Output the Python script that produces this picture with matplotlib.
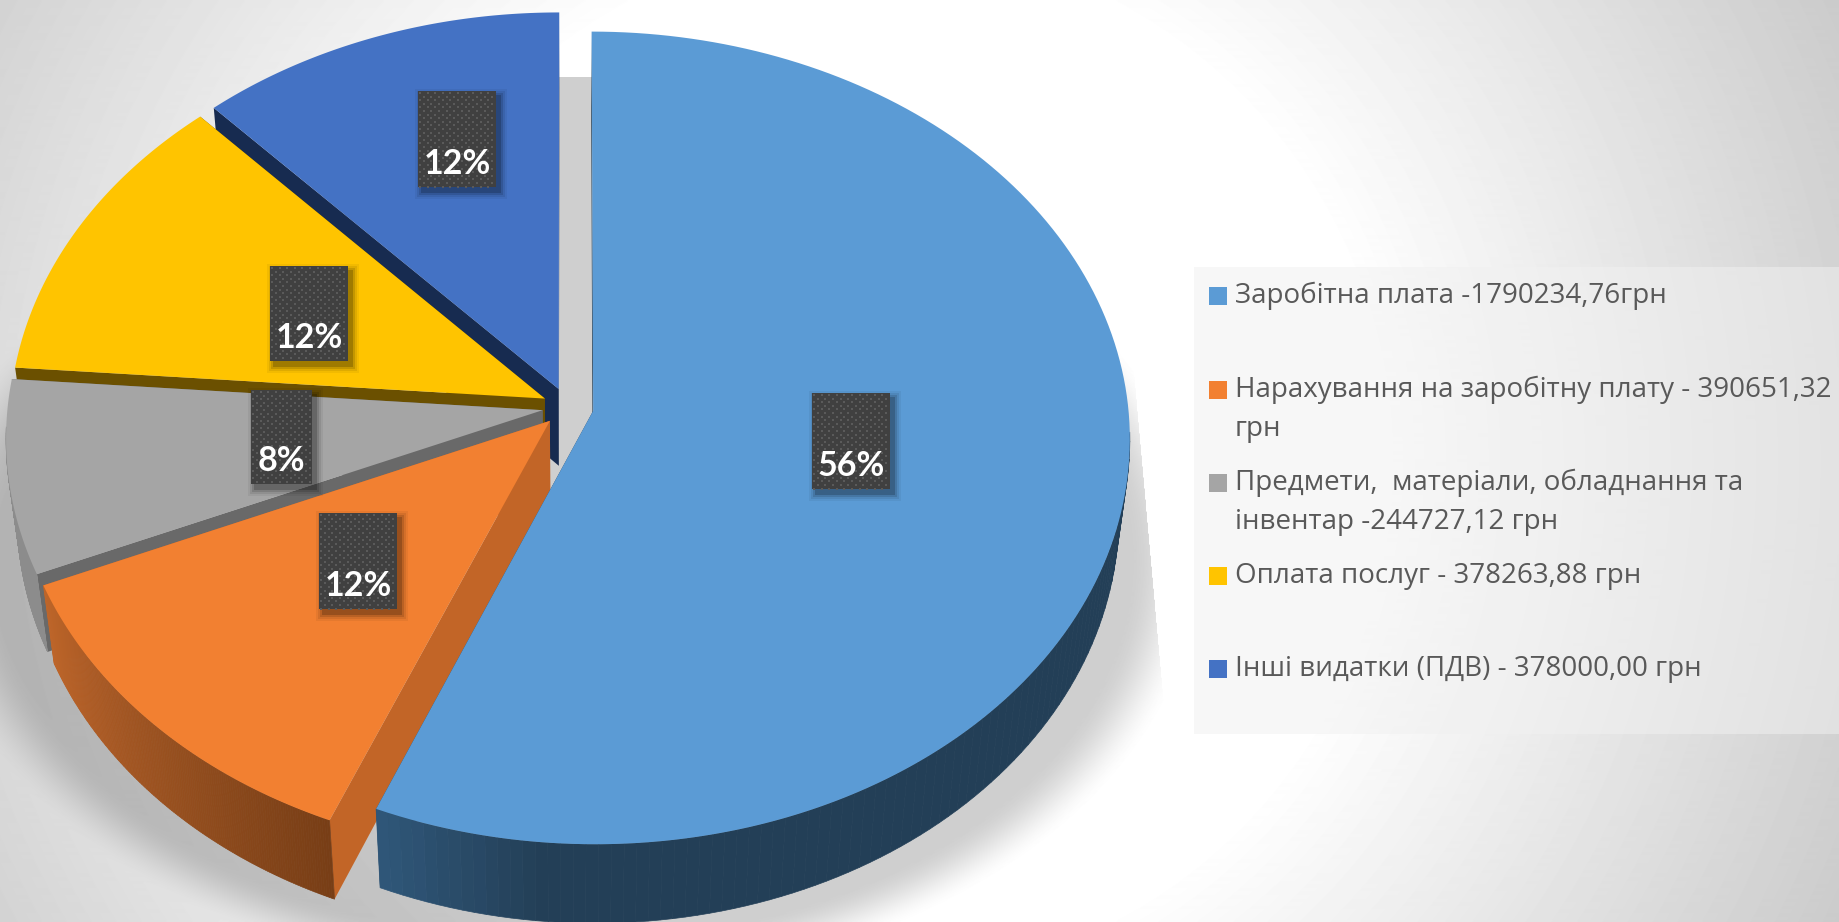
import numpy as np
import matplotlib
matplotlib.use('Agg')
import matplotlib.pyplot as plt
from matplotlib.patches import Rectangle
from matplotlib.colors import LinearSegmentedColormap

W, H = 1839, 922

# Data from the legend
labels = ['Заробітна плата -1790234,76грн',
          'Нарахування на заробітну плату - 390651,32\nгрн',
          'Предмети,  матеріали, обладнання та\nінвентар -244727,12 грн',
          'Оплата послуг - 378263,88 грн',
          'Інші видатки (ПДВ) - 378000,00 грн']
values = [1790234.76, 390651.32, 244727.12, 378263.88, 378000.00]

top_colors = ['#5b9bd5', '#f28031', '#a5a5a5', '#ffc400', '#4472c4']
cut_colors = ['#233f57', '#c26527', '#696969', '#6b5000', '#172b50']
# shading of the outer wall, from the start of the slice to its end
wall_colors = [[(0, '#233f57'), (0.92, '#233f57'), (1, '#2f5678')],
               [(0, '#783e16'), (1, '#bd652a')],
               [(0, '#8c8c8c'), (1, '#8c8c8c')],
               [(0, '#6b5000'), (1, '#6b5000')],
               [(0, '#172b50'), (1, '#172b50')]]

# Geometry of the 3d pie, in pixels
cx, cy = 568, 407
rx, ry = 535, 404
explode = 0.048
depth = 80
k_y = 0.0667
k_z = 0.02


def project(x, y, z=0.0):
    s = 1.0 / (1.0 + k_y * y + k_z * z)
    return cx + rx * x * s, cy - ry * y * s + depth * z * s ** 2


def background():
    yy, xx = np.mgrid[0:H, 0:W]
    r = np.hypot(xx - 872, yy - 461)
    grey = 255 - 0.093 * np.clip(r - 510, 0, None)
    # soft shadow below the pie
    r2 = np.sqrt(((xx - 565) / 640.0) ** 2 + ((yy - 560) / 430.0) ** 2)
    mask = np.clip((1.0 - r2) / 0.12, 0, 1)
    mask = mask * mask * (3 - 2 * mask)
    # it also shows in the gap between the two blue slices
    mask[(xx > 550) & (xx < 610)] = 1
    mask[xx > 1145 + (yy - 500) * 0.09] = 0
    mask[yy < 78] = 0
    return grey * (1 - 0.19 * mask)


def draw_slice(a0, a1, i, zo):
    mid = np.radians((a0 + a1) / 2)
    ox, oy = explode * np.sin(mid), explode * np.cos(mid)
    t = np.radians(np.linspace(a0, a1, 160))
    x = ox + np.sin(t)
    y = oy + np.cos(t)
    # cut faces
    for e in (0, -1):
        pts = [project(ox, oy, 0), project(x[e], y[e], 0), project(x[e], y[e], 1), project(ox, oy, 1)]
        ax.fill(*zip(*pts), color=cut_colors[i], lw=0, zorder=zo)
    # outer wall, shaded piece by piece; the back part can not be seen
    wall = LinearSegmentedColormap.from_list('wall', wall_colors[i])
    for j in range(len(t) - 1):
        if y[j] > -0.05:
            continue
        pts = [project(x[j], y[j], 0), project(x[j + 1], y[j + 1], 0),
               project(x[j + 1], y[j + 1], 1), project(x[j], y[j], 1)]
        ax.fill(*zip(*pts), color=wall(j / (len(t) - 2)), lw=0.5, zorder=zo + 0.1)
    # top face
    pts = [project(ox, oy)] + [project(a, b) for a, b in zip(x, y)]
    ax.fill(*zip(*pts), color=top_colors[i], lw=0, zorder=zo + 0.2)


def draw_label(x0, y0, w, h, text):
    for g, a in zip((7, 5, 3, 1), (0.05, 0.08, 0.12, 0.18)):
        ax.add_patch(Rectangle((x0 + 4 - g, y0 + 5 - g), w + 2 * g, h + 2 * g, fc='black',
                               ec='none', alpha=a, zorder=20))
    ax.add_patch(Rectangle((x0, y0), w, h, fc='#404040', ec='none', zorder=21))
    dots_x, dots_y = [], []
    for row, yy in enumerate(np.arange(y0 + 2, y0 + h, 3.6)):
        start = x0 + 2 + (row % 2) * 3.8
        for xx in np.arange(start, x0 + w, 7.6):
            dots_x.append(xx)
            dots_y.append(yy)
    ax.scatter(dots_x, dots_y, s=2.5, marker='s', c='#5a5a5a', linewidths=0, zorder=22)
    ax.text(x0 + w / 2, y0 + h - 23, text, color='white', fontsize=24.5, fontweight='bold',
            family='Lato', ha='center', va='center', zorder=23)


fig = plt.figure(figsize=(W / 100, H / 100), dpi=100)
ax = fig.add_axes([0, 0, 1, 1])

ax.imshow(background(), cmap='gray', vmin=0, vmax=255, extent=(0, W, H, 0), aspect='auto', zorder=0)

# slices go clockwise from the top, painted in reverse so that the first lies on top
total = sum(values)
angles = np.cumsum([0] + [v / total * 360 for v in values])
for zo, i in enumerate([4, 3, 2, 1, 0]):
    draw_slice(angles[i], angles[i + 1], i, 5 + zo)

# data labels
label_boxes = [(812, 393, 78, 96), (319, 513, 78, 96), (251, 390, 61, 94), (270, 266, 78, 95), (418, 91, 78, 96)]
for i, (x0, y0, w, h) in enumerate(label_boxes):
    draw_label(x0, y0, w, h, '{:.0f}%'.format(values[i] / total * 100))

# legend
ax.add_patch(Rectangle((1194, 267), W - 1194, 467, fc='#f1f1f1', ec='none', alpha=0.5, zorder=1))
legend_y = [296, 390, 483, 576, 669]
for i, lab in enumerate(labels):
    ax.add_patch(Rectangle((1209, legend_y[i] - 9), 18, 18, fc=top_colors[i], ec='none', zorder=30))
    ax.text(1235, legend_y[i] - 14, lab, color='#595959', fontsize=20, family='Open Sans',
            ha='left', va='top', linespacing=1.5, zorder=30)

ax.set_xlim(0, W)
ax.set_ylim(H, 0)
ax.axis('off')

fig.savefig('out.png', dpi=100)
